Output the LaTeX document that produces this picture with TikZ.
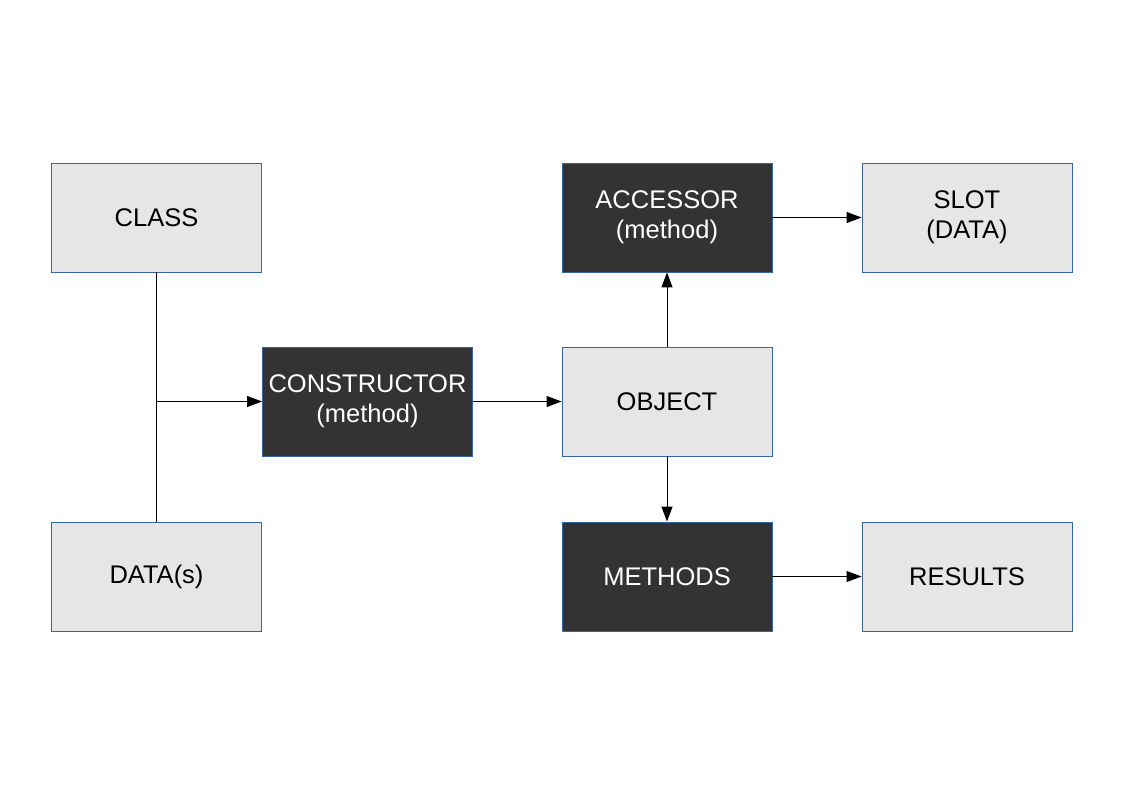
\documentclass[tikz,border=0pt]{standalone}
\usepackage{fontspec}
\setmainfont{Liberation Sans}
\usetikzlibrary{arrows.meta}
\definecolor{lightbox}{HTML}{E6E6E6}
\definecolor{darkbox}{HTML}{333333}
\definecolor{edgeblue}{HTML}{3465A4}
\begin{document}
\begin{tikzpicture}[x=1pt,y=-1pt,
  box/.style={draw=edgeblue,line width=0.9pt,minimum width=210pt,minimum height=109pt,inner sep=0pt,align=center,font=\fontsize{25.5}{30}\selectfont},
  lightnode/.style={box,fill=lightbox,text=black},
  darknode/.style={box,fill=darkbox,text=white},
  conn/.style={line width=1pt,-{Triangle[length=15pt,width=11pt]}},
  plain/.style={line width=1pt}]
\useasboundingbox (0,0) rectangle (1123,794);
\node[lightnode] (class) at (156.5,217.5) {CLASS};
\node[lightnode] (data) at (156.5,576.5) {DATA(s)};
\node[darknode] (cons) at (367.5,401.5) {CONSTRUCTOR\\(method)};
\node[lightnode] (obj) at (667,401.5) {OBJECT};
\node[darknode] (acc) at (667,217.5) {ACCESSOR\\(method)};
\node[lightnode] (slot) at (967,217.5) {SLOT\\(DATA)};
\node[darknode] (meth) at (667,576.5) {METHODS};
\node[lightnode] (res) at (967,576.5) {RESULTS};
\draw[plain] (class.south) -- (data.north);
\coordinate (j) at (156.5,401.5);
\draw[conn] (j) -- (cons.west);
\draw[conn] (cons.east) -- (obj.west);
\draw[conn] (obj.north) -- (acc.south);
\draw[conn] (acc.east) -- (slot.west);
\draw[conn] (obj.south) -- (meth.north);
\draw[conn] (meth.east) -- (res.west);
\end{tikzpicture}
\end{document}
